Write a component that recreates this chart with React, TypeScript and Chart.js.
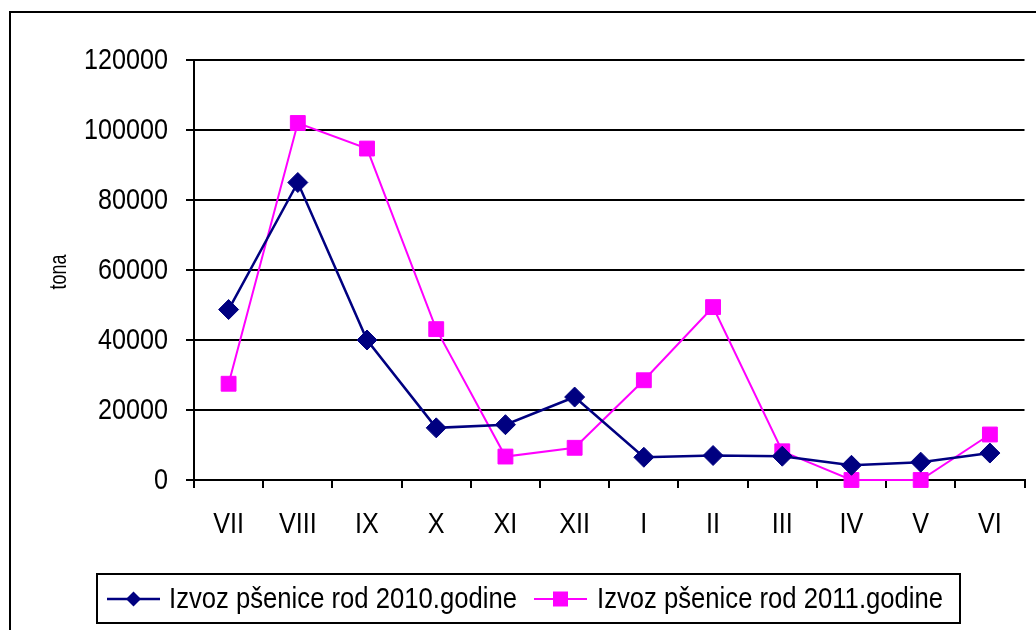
import React, { useEffect, useRef } from "react";
import { Chart, registerables } from "chart.js";

Chart.register(...registerables);

const MONTHS = ["VII", "VIII", "IX", "X", "XI", "XII", "I", "II", "III", "IV", "V", "VI"];
const LABEL_2010 = "Izvoz pšenice rod 2010.godine";
const LABEL_2011 = "Izvoz pšenice rod 2011.godine";
const EXPORT_2010 = [48700, 85000, 40000, 14900, 15800, 23700, 6500, 7000, 6800, 4200, 5100, 7700];
const EXPORT_2011 = [27500, 102000, 94700, 43100, 6700, 9200, 28500, 49400, 8200, 0, 0, 13000];
const Y_MIN = 0;
const Y_MAX = 120000;
const Y_STEP = 20000;
const Y_TITLE = "tona";

const FONT = "'Liberation Sans', Arial, sans-serif";
const NAVY = "#000080";
const MAGENTA = "#FF00FF";

function drawText(
  ctx: CanvasRenderingContext2D,
  text: string,
  x: number,
  y: number,
  align: CanvasTextAlign,
  size: number,
  sx: number,
  rotate = 0
) {
  ctx.save();
  ctx.translate(x, y);
  if (rotate) ctx.rotate(rotate);
  ctx.scale(sx, 1);
  ctx.font = `${size}px ${FONT}`;
  ctx.fillStyle = "#000";
  ctx.textAlign = align;
  ctx.textBaseline = "middle";
  ctx.fillText(text, 0, 0);
  ctx.restore();
}

const framePlugin = {
  id: "frame",
  afterDraw(chart: any) {
    const ctx = chart.ctx as CanvasRenderingContext2D;
    ctx.save();
    ctx.strokeStyle = "#000";
    ctx.lineWidth = 2;
    ctx.strokeRect(10, 12, 1060, 660);

    // axis labels
    const ys = chart.scales.y;
    ys.ticks.forEach((t: any) => {
      drawText(ctx, String(t.value), 168, ys.getPixelForValue(t.value) + 1, "right", 30, 0.84);
    });
    const xs = chart.scales.x;
    chart.data.labels.forEach((lab: string, i: number) => {
      drawText(ctx, lab, xs.getPixelForTick(i), 525, "center", 30, 0.84);
    });

    // y-axis title
    drawText(ctx, Y_TITLE, 60, 272, "center", 23, 0.78, -Math.PI / 2);

    // legend
    ctx.strokeStyle = "#000";
    ctx.lineWidth = 2;
    ctx.strokeRect(97, 574, 863, 49);
    const items = [
      { x0: 107, x1: 160, tx: 169 },
      { x0: 534, x1: 587, tx: 597 },
    ];
    const y = 599;
    chart.data.datasets.forEach((ds: any, i: number) => {
      const it = items[i];
      ctx.strokeStyle = ds.borderColor;
      ctx.lineWidth = ds.borderWidth;
      ctx.beginPath();
      ctx.moveTo(it.x0, y);
      ctx.lineTo(it.x1, y);
      ctx.stroke();
      const cx = (it.x0 + it.x1) / 2;
      ctx.fillStyle = ds.pointBackgroundColor;
      ctx.beginPath();
      if (ds.pointStyle === "rectRot") {
        const r = 7.5;
        ctx.moveTo(cx - r, y);
        ctx.lineTo(cx, y - r);
        ctx.lineTo(cx + r, y);
        ctx.lineTo(cx, y + r);
        ctx.closePath();
      } else {
        const s = 7.5;
        ctx.rect(cx - s, y - s, 2 * s, 2 * s);
      }
      ctx.fill();
      drawText(ctx, ds.label, it.tx, y + 1, "left", 30, 0.855);
    });
    ctx.restore();
  },
};

export default function App() {
  const ref = useRef<HTMLCanvasElement>(null);
  useEffect(() => {
    if (!ref.current) return;
    const chart = new Chart(ref.current, {
      type: "line",
      data: {
        labels: MONTHS,
        datasets: [
          {
            label: LABEL_2010,
            data: EXPORT_2010,
            borderColor: NAVY,
            backgroundColor: NAVY,
            pointBackgroundColor: NAVY,
            pointBorderColor: NAVY,
            borderWidth: 2.5,
            pointStyle: "rectRot",
            pointRadius: 10,
            pointBorderWidth: 1,
            tension: 0,
            clip: false as any,
          },
          {
            label: LABEL_2011,
            data: EXPORT_2011,
            borderColor: MAGENTA,
            backgroundColor: MAGENTA,
            pointBackgroundColor: MAGENTA,
            pointBorderColor: MAGENTA,
            borderWidth: 2,
            pointStyle: "rect",
            pointRadius: 10.5,
            pointBorderWidth: 1,
            tension: 0,
            clip: false as any,
          },
        ],
      },
      options: {
        animation: false,
        responsive: false,
        devicePixelRatio: 1,
        layout: { padding: { left: 0, top: 60, right: 8, bottom: 0 } },
        plugins: {
          legend: { display: false },
          tooltip: { enabled: false },
          title: { display: false },
        },
        scales: {
          x: {
            type: "category",
            offset: true,
            grid: {
              display: true,
              offset: true,
              drawOnChartArea: false,
              drawTicks: true,
              tickLength: 8,
              color: "#000",
              lineWidth: 2,
            },
            border: { display: true, color: "#000", width: 2 },
            ticks: { display: false, autoSkip: false },
            afterFit(scale: any) {
              scale.height = 150;
            },
          },
          y: {
            min: Y_MIN,
            max: Y_MAX,
            grid: {
              color: "#000",
              lineWidth: 2,
              drawTicks: true,
              tickLength: 8,
            },
            border: { display: true, color: "#000", width: 2 },
            ticks: { display: false, stepSize: Y_STEP },
            afterFit(scale: any) {
              scale.width = 194;
            },
          },
        },
      },
      plugins: [framePlugin],
    });
    return () => chart.destroy();
  }, []);
  return (
    <div style={{ position: "absolute", left: 0, top: 0, width: 1036, height: 630, background: "#fff" }}>
      <canvas ref={ref} width={1036} height={630} />
    </div>
  );
}
